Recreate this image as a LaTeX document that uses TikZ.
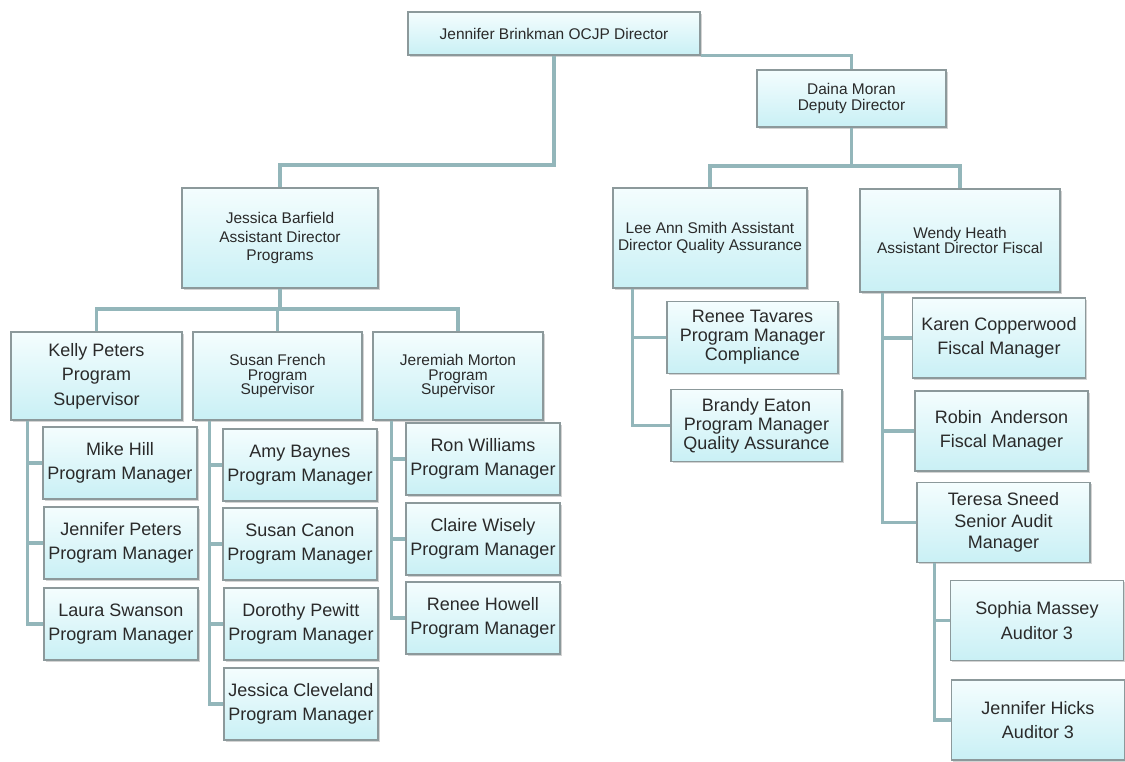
\documentclass[tikz,border=0pt]{standalone}
\usepackage{fontspec}
\setmainfont{Liberation Sans}
\usetikzlibrary{shadows}

\definecolor{boxtop}{HTML}{F4FDFE}
\definecolor{boxbot}{HTML}{C9F0F5}
\definecolor{boxline}{HTML}{8C999B}
\definecolor{linkc}{HTML}{93B6BA}
\definecolor{ink}{HTML}{2A2A2A}

\begin{document}
\begin{tikzpicture}[x=0.025cm, y=-0.025cm,
  unit/.style={draw=boxline, line width=0.8pt, top color=boxtop, bottom color=boxbot,
    drop shadow={shadow xshift=1.2pt, shadow yshift=-1.2pt, opacity=0.35},
    align=center, inner sep=1pt, text=ink},
  head/.style={unit, font=\fontsize{11}{12}\selectfont},
  staff/.style={unit, font=\fontsize{12.8}{17.5}\selectfont,
    minimum width=3.85cm, minimum height=1.8cm},
  fisc/.style={staff, minimum width=4.325cm, minimum height=2cm},
  link/.style={draw=linkc, line width=2.2pt}]
  \useasboundingbox (0,0) rectangle (1125,762);

  % Director and deputy
  \node[head, minimum width=7.3cm, minimum height=1.075cm] (dir) at (554,33.5)
    {Jennifer Brinkman OCJP Director};
  \node[head, minimum width=4.725cm, minimum height=1.425cm] (dm) at (851.5,98.5)
    {Daina Moran\\Deputy Director};

  % Assistant directors
  \node[head, minimum width=4.9cm, minimum height=2.5cm,
    font=\fontsize{11}{13}\selectfont] (jb) at (280,238)
    {Jessica Barfield\\Assistant Director\\Programs};
  \node[head, minimum width=4.85cm, minimum height=2.5cm] (la) at (710,238)
    {Lee Ann Smith Assistant\\Director Quality Assurance};
  \node[head, minimum width=5cm, minimum height=2.575cm,
    font=\fontsize{11}{10.5}\selectfont] (wh) at (960,240.5)
    {Wendy Heath\\Assistant Director Fiscal};

  % Program supervisors
  \node[staff, minimum width=4.275cm, minimum height=2.2cm] (kp) at (96.5,376)
    {Kelly Peters\\Program\\Supervisor};
  \node[head, minimum width=4.225cm, minimum height=2.2cm,
    font=\fontsize{11}{10.5}\selectfont] (sf) at (277.5,376)
    {Susan French\\Program\\Supervisor};
  \node[head, minimum width=4.25cm, minimum height=2.2cm,
    font=\fontsize{11}{10.5}\selectfont] (jm) at (458,376)
    {Jeremiah Morton\\Program\\Supervisor};

  % Program managers
  \node[staff] (mh) at (120,463) {Mike Hill\\Program Manager};
  \node[staff] (jp) at (121,543) {Jennifer Peters\\Program Manager};
  \node[staff] (ls) at (121,624) {Laura Swanson\\Program Manager};
  \node[staff] (ab) at (300,465) {Amy Baynes\\Program Manager};
  \node[staff] (sc) at (300,544) {Susan Canon\\Program Manager};
  \node[staff] (dp) at (301,624) {Dorothy Pewitt\\Program Manager};
  \node[staff] (jc) at (301,704) {Jessica Cleveland\\Program Manager};
  \node[staff] (rw) at (483,459) {Ron Williams\\Program Manager};
  \node[staff] (cw) at (483,539) {Claire Wisely\\Program Manager};
  \node[staff] (rh) at (483,618) {Renee Howell\\Program Manager};

  % Quality assurance
  \node[staff, minimum width=4.275cm, font=\fontsize{12.8}{13.5}\selectfont]
    (rt) at (752.5,337.5) {Renee Tavares\\Program Manager\\Compliance};
  \node[staff, minimum width=4.275cm, font=\fontsize{12.8}{13.5}\selectfont]
    (be) at (756.5,425.5) {Brandy Eaton\\Program Manager\\Quality Assurance};

  % Fiscal
  \node[fisc] (kc) at (999,338) {Karen Copperwood\\Fiscal Manager};
  \node[fisc] (ra) at (1001.5,431) {Robin\enspace Anderson\\Fiscal Manager};
  \node[fisc, font=\fontsize{12.8}{15.5}\selectfont] (ts) at (1003.5,522.5)
    {Teresa Sneed\\Senior Audit\\Manager};
  \node[fisc] (sm) at (1037,620.5) {Sophia Massey\\Auditor 3};
  \node[fisc] (jh) at (1038,720) {Jennifer Hicks\\Auditor 3};

  % Bus lines
  \coordinate (topbus) at (0,165);
  \coordinate (depbus) at (0,166);
  \coordinate (progbus) at (0,309);

  % Connectors
  \draw[link] (dir.south) |- (jb.north |- topbus) -- (jb.north);
  \draw[link] (dir.south east) -| (dm.north);
  \draw[link] (dm.south) -- (dm.south |- depbus);
  \draw[link] (la.north) |- (wh.north |- depbus) -- (wh.north);
  \draw[link] (jb.south) -- (jb.south |- progbus);
  \draw[link] (kp.north) |- (jm.north |- progbus) -- (jm.north);
  \draw[link] (sf.north) -- (sf.north |- progbus);

  \foreach \c in {mh,jp,ls} \draw[link] (kp.south west) ++(17,0) |- (\c.west);
  \foreach \c in {ab,sc,dp,jc} \draw[link] (sf.south west) ++(17,0) |- (\c.west);
  \foreach \c in {rw,cw,rh} \draw[link] (jm.south west) ++(19,0) |- (\c.west);
  \foreach \c in {rt,be} \draw[link] (la.south west) ++(20,0) |- (\c.west);
  \foreach \c in {kc,ra,ts} \draw[link] (wh.south west) ++(23,0) |- (\c.west);
  \foreach \c in {sm,jh} \draw[link] (ts.south west) ++(18,0) |- (\c.west);
\end{tikzpicture}
\end{document}
